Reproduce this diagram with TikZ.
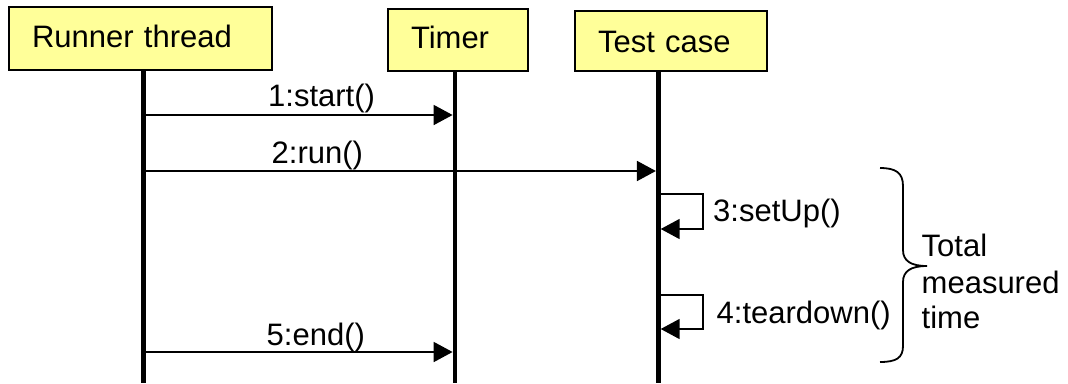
\documentclass[tikz,border=0pt]{standalone}
\usepackage{fontspec}
\setmainfont{Liberation Sans}
\usetikzlibrary{arrows.meta}

\definecolor{boxfill}{HTML}{FFFF99}

\tikzset{
  obj/.style={draw=black, line width=2pt, fill=boxfill, anchor=north west,
              inner xsep=23pt, inner ysep=0pt, align=left,
              font=\fontsize{31}{36}\selectfont, text depth=0pt},
  lifeline/.style={line width=4.7pt},
  msg/.style={line width=1.8pt, -{Triangle[length=19pt,width=20pt]}},
  msglabel/.style={anchor=base west, inner sep=0pt, font=\fontsize{31}{36}\selectfont},
  bracepath/.style={line width=1.8pt}
}

\begin{document}
\begin{tikzpicture}[x=1pt,y=-1pt]
\useasboundingbox (0,0) rectangle (1068,383);

% participants
\node[obj, minimum width=263pt, minimum height=63pt, text width=217pt, text height=18pt] (rt) at (8,6) {Runner thread};
\node[obj, minimum width=140pt, minimum height=62pt, text width=94pt,  text height=16pt] (tm) at (387,8) {Timer};
\node[obj, minimum width=192pt, minimum height=60pt, text width=146pt, text height=23pt] (tc) at (574,10) {Test case};

% lifeline ends
\coordinate (rtl) at (143.3,383);
\coordinate (tml) at (455,383);
\coordinate (tcl) at (658.3,383);

\draw[lifeline] (rt.south -| rtl) -- (rtl);
\draw[lifeline] (tm.south -| tml) -- (tml);
\draw[lifeline] (tc.south -| tcl) -- (tcl);

% message end points
\coordinate (m1s) at (145.6,115);
\coordinate (m1e) at (452.6,115);
\coordinate (m2s) at (145.6,171);
\coordinate (m2e) at (655.9,171);
\coordinate (m5s) at (145.6,352);
\coordinate (m5e) at (452.6,352);

% self calls on the test case
\coordinate (s3a) at (660.7,194);
\coordinate (s3r) at (703,211);
\coordinate (s3b) at (660.7,229);
\coordinate (s4a) at (660.7,295);
\coordinate (s4r) at (703,312);
\coordinate (s4b) at (660.7,329);

\draw[msg] (m1s) -- (m1e);
\draw[msg] (m2s) -- (m2e);
\draw[msg] (m5s) -- (m5e);
\draw[msg] (s3a) -- (s3a -| s3r) -- (s3b -| s3r) -- (s3b);
\draw[msg] (s4a) -- (s4a -| s4r) -- (s4b -| s4r) -- (s4b);

% message labels
\node[msglabel] (l1) at (268,106) {1:start()};
\node[msglabel] (l2) at (271.5,163) {2:run()};
\node[msglabel] (l3) at (713,221.5) {3:setUp()};
\node[msglabel] (l4) at (716.5,323) {4:teardown()};
\node[msglabel] (l5) at (266.5,345) {5:end()};

% brace around setUp .. teardown
\draw[bracepath] (880,168) .. controls (896,168) and (903,173) .. (903,186)
  -- (903,250) .. controls (903,261) and (911,266) .. (927,266)
  .. controls (911,266) and (903,271) .. (903,282)
  -- (903,346) .. controls (903,358) and (896,362) .. (880,362);

\node[msglabel, align=left] (tot) at (921.5,256.5) {Total};
\node[msglabel] (meas) at (921.5,293) {measured};
\node[msglabel] (tim) at (921.5,328.5) {time};
\end{tikzpicture}
\end{document}
